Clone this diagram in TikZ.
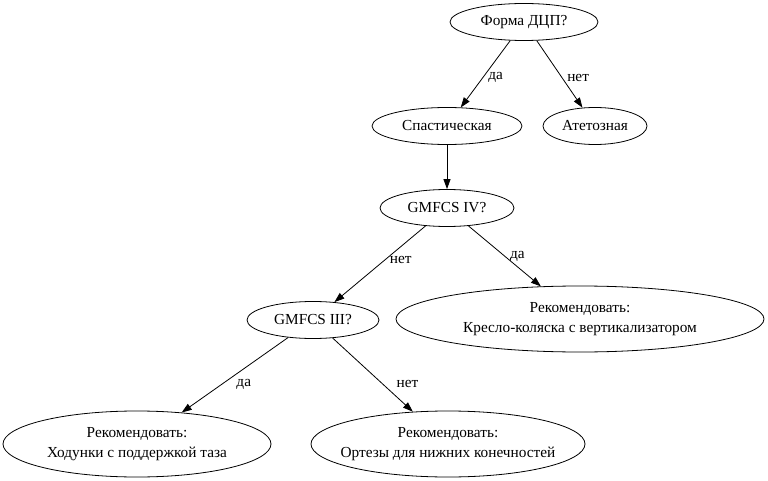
\documentclass[tikz,border=0pt]{standalone}
\usepackage{fontspec}
\setmainfont{Liberation Serif}
\usetikzlibrary{shapes.geometric,arrows.meta}

\begin{document}
\begin{tikzpicture}[x=1pt,y=-1pt,
  every node/.style={font=\fontsize{15.3}{20}\selectfont},
  vopros/.style={draw,ellipse,inner sep=0pt,minimum height=37pt,line width=0.8pt},
  sovet/.style={draw,ellipse,inner ysep=0pt,inner xsep=-25pt,minimum height=66pt,align=center,line width=0.8pt},
  strelka/.style={-{Triangle[length=10pt,width=7pt]},line width=0.8pt},
  metka/.style={right,inner sep=0pt,xshift=5pt}]
  \useasboundingbox (0,0) rectangle (768,481);

  % Questions
  \node[vopros,minimum width=148pt] (forma) at (524,22) {Форма ДЦП?};
  \node[vopros,minimum width=150pt] (spast) at (447,126) {Спастическая};
  \node[vopros,minimum width=104pt] (atet) at (595,126) {Атетозная};
  \node[vopros,minimum width=134pt] (gm4) at (447,208) {GMFCS IV?};
  \node[vopros,minimum width=132pt] (gm3) at (313,320) {GMFCS III?};

  % Recommendations
  \node[sovet,minimum width=368pt] (kreslo) at (580,319) {Рекомендовать:\\Кресло-коляска с вертикализатором};
  \node[sovet,minimum width=268pt] (hodunki) at (137,444) {Рекомендовать:\\Ходунки с поддержкой таза};
  \node[sovet,minimum width=274pt] (ortez) at (448,444) {Рекомендовать:\\Ортезы для нижних конечностей};

  % Edges
  \draw[strelka] (forma) -- node[metka,pos=0.55] (l1) {да} (spast);
  \draw[strelka] (forma) -- node[metka,pos=0.55] (l2) {нет} (atet);
  \draw[strelka] (spast) -- (gm4);
  \draw[strelka] (gm4) -- node[metka,pos=0.45] (l3) {нет} (gm3);
  \draw[strelka] (gm4) -- node[metka,pos=0.5] (l4) {да} (kreslo);
  \draw[strelka] (gm3) -- node[metka,pos=0.63,xshift=10pt] (l5) {да} (hodunki);
  \draw[strelka] (gm3) -- node[metka,pos=0.63,xshift=8pt] (l6) {нет} (ortez);
\end{tikzpicture}
\end{document}
